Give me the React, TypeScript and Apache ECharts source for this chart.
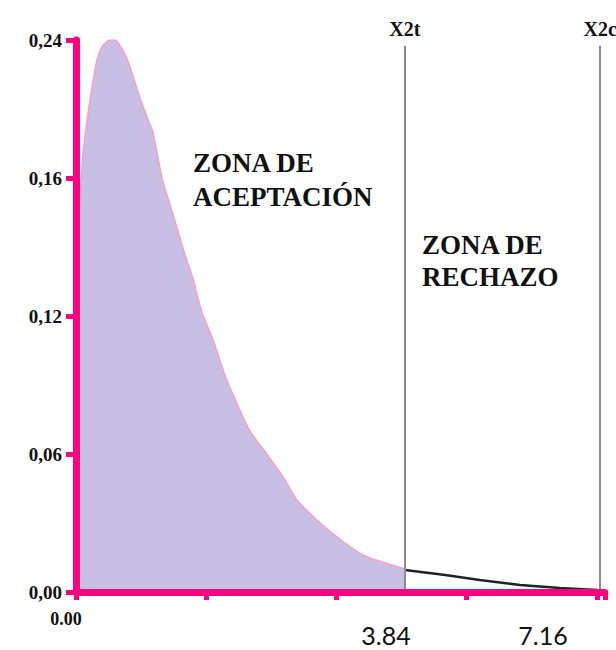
import React, { useEffect, useRef } from "react";
import * as echarts from "echarts";

// Tick labels (as printed on the reference)
const yTickValues = [0, 0.06, 0.12, 0.18, 0.24];
const yTickLabels = ["0,00", "0,06", "0,12", "0,16", "0,24"];
const xZeroLabel = "0.00";

// Density curve, acceptance zone (x, density)
const acceptanceCurve: [number, number][] = [
  [0.06, 0.17], [0.11, 0.191], [0.18, 0.207], [0.25, 0.22], [0.32, 0.231],
  [0.4, 0.237], [0.52, 0.24], [0.6, 0.24], [0.78, 0.232], [0.98, 0.215],
  [1.11, 0.205], [1.18, 0.2], [1.32, 0.18], [1.47, 0.166], [1.67, 0.147],
  [1.8, 0.136], [1.87, 0.128], [1.94, 0.121], [2.1, 0.11], [2.29, 0.094],
  [2.47, 0.082], [2.67, 0.07], [2.93, 0.06], [3.18, 0.05], [3.39, 0.04],
  [3.75, 0.03], [4.05, 0.023], [4.41, 0.016], [5.05, 0.01],
];

// Density curve, rejection zone tail
const rejectionTail: [number, number][] = [
  [5.05, 0.0096], [5.67, 0.0074], [6.2, 0.0052], [6.82, 0.003], [7.43, 0.0017], [8.0, 0.0009],
];

// Short black stroke at the origin
const originStroke: [number, number][] = [[0.02, 0], [0.02, 0.051]];

// Critical lines
const criticalNames = ["X2t", "X2c"];
const criticalPositions = [5.05, 8.05];
const criticalValues = ["3.84", "7.16"];

const acceptText = ["ZONA DE", "ACEPTACIÓN"];
const rejectText = ["ZONA DE", "RECHAZO"];

const PINK = "#ff0080";
const SERIF = '"Liberation Serif", "Times New Roman", serif';

export default function App() {
  const ref = useRef<HTMLDivElement>(null);

  useEffect(() => {
    if (!ref.current) return;
    const chart = echarts.init(ref.current, undefined, { renderer: "svg" });
    const lineTop = 0.2375;
    chart.setOption({
      animation: false,
      grid: { left: 76, right: 11.2, top: 40, bottom: 58 },
      xAxis: {
        type: "value",
        min: 0,
        max: 8.12,
        interval: 2,
        z: 10,
        axisLine: { show: true, lineStyle: { color: PINK, width: 7 } },
        axisTick: { show: true, length: 8, lineStyle: { color: PINK, width: 5 } },
        splitLine: { show: false },
        axisLabel: {
          formatter: (v: number) => (v === 0 ? xZeroLabel : ""),
          fontFamily: SERIF,
          fontWeight: "bold",
          fontSize: 18,
          color: "#111",
          margin: 18,
          padding: [0, 20, 0, 0],
        },
      },
      yAxis: {
        type: "value",
        min: 0,
        max: 0.24,
        interval: 0.06,
        z: 10,
        axisLine: { show: true, lineStyle: { color: PINK, width: 7 } },
        axisTick: { show: true, length: 10, lineStyle: { color: PINK, width: 5 } },
        splitLine: { show: false },
        axisLabel: {
          formatter: (v: number) => {
            const i = yTickValues.findIndex((t) => Math.abs(t - v) < 1e-6);
            return i >= 0 ? yTickLabels[i] : "";
          },
          fontFamily: SERIF,
          fontWeight: "bold",
          fontSize: 19,
          color: "#111",
          margin: 14,
        },
      },
      series: [
        {
          type: "line",
          data: acceptanceCurve,
          symbol: "none",
          smooth: 0.2,
          z: 2,
          lineStyle: { color: "#ff9cc4", width: 1.5 },
          areaStyle: { color: "#c7c0e4", opacity: 1 },
          markLine: {
            silent: true,
            symbol: "none",
            lineStyle: { color: "#8c8c8c", width: 2, type: "solid" },
            label: {
              show: true,
              position: "end",
              formatter: "{b}",
              fontFamily: SERIF,
              fontWeight: "bold",
              fontSize: 20,
              color: "#111",
              distance: 7,
            },
            data: criticalPositions.map((x, i) => [
              { coord: [x, 0], name: criticalNames[i] },
              { coord: [x, lineTop] },
            ]),
          },
        },
        {
          type: "line",
          data: rejectionTail,
          symbol: "none",
          z: 3,
          lineStyle: { color: "#222", width: 2.5 },
        },
        {
          type: "line",
          data: originStroke,
          symbol: "none",
          z: 3,
          lineStyle: { color: "#222", width: 2.5 },
        },
      ],
      graphic: [
        {
          type: "text",
          left: 193,
          top: 146,
          style: {
            text: acceptText.join("\n"),
            fontFamily: SERIF,
            fontWeight: "bold",
            fontSize: 27,
            lineHeight: 34,
            fill: "#111",
          },
        },
        {
          type: "text",
          left: 422,
          top: 229,
          style: {
            text: rejectText.join("\n"),
            fontFamily: SERIF,
            fontWeight: "bold",
            fontSize: 27,
            lineHeight: 32,
            fill: "#111",
          },
        },
        {
          type: "text",
          x: 386,
          y: 635,
          style: {
            text: criticalValues[0],
            fontFamily: "Lato, sans-serif",
            fontSize: 25,
            fill: "#111",
            align: "center",
            verticalAlign: "middle",
          },
        },
        {
          type: "text",
          x: 543,
          y: 635,
          style: {
            text: criticalValues[1],
            fontFamily: "Lato, sans-serif",
            fontSize: 25,
            fill: "#111",
            align: "center",
            verticalAlign: "middle",
          },
        },
      ],
    });
    return () => chart.dispose();
  }, []);

  return (
    <div
      ref={ref}
      style={{ position: "absolute", left: 0, top: 0, width: 616, height: 650, background: "#fff" }}
    />
  );
}
